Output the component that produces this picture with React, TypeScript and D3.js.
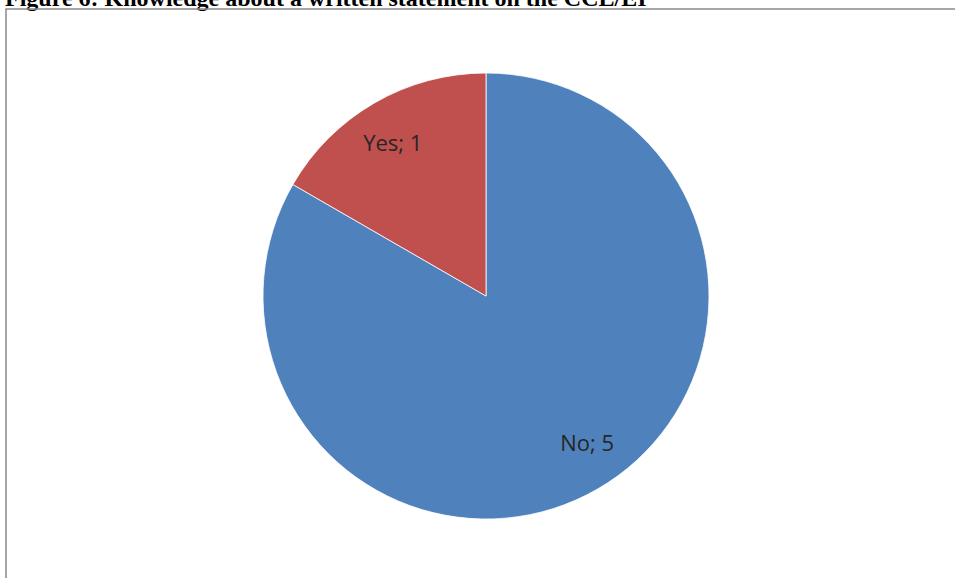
import React from "react";
import * as d3 from "d3";

const categories = ["No", "Yes"];
const values = [5, 1];
const colors = ["#4F81BD", "#C0504D"];
const title = "Figure 6: Knowledge about a written statement on the CCL/EI";

export default function App() {
  const W = 955, H = 578;
  const cx = 486, cy = 296, R = 223;
  const data = categories.map((c, i) => ({ c, v: values[i], color: colors[i] }));
  const pie = d3.pie<any>().value((d) => d.v).sort(null);
  const arcs = pie(data);
  const arc = d3.arc<any>().innerRadius(0).outerRadius(R);
  const labelArc = d3.arc<any>().innerRadius(R * 0.8).outerRadius(R * 0.8);
  const nudges = [[12, -8], [-4, 0]];
  return (
    <svg width={W} height={H} style={{ position: "absolute", left: 0, top: 0, background: "#fff" }}>
      <text x={5} y={5.5} fontFamily="'Liberation Serif', serif" fontWeight="bold" fontSize={24} fill="#000">{title}</text>
      <path d={`M6,${H} L6,9 L${W},9`} fill="none" stroke="#898989" strokeWidth={1.5} />
      <g transform={`translate(${cx},${cy})`}>
        {arcs.map((a, i) => (
          <path key={i} d={arc(a) as string} fill={a.data.color} stroke="#fff" strokeWidth={0.8} />
        ))}
        {arcs.map((a, i) => {
          const [x, y] = labelArc.centroid(a);
          return (
            <text key={"l" + i} x={x + nudges[i][0]} y={y + nudges[i][1]} textAnchor="middle" dominantBaseline="central" fontFamily="'Open Sans', sans-serif" fontSize={22} fill="#262626">
              {`${a.data.c}; ${a.data.v}`}
            </text>
          );
        })}
      </g>
    </svg>
  );
}
